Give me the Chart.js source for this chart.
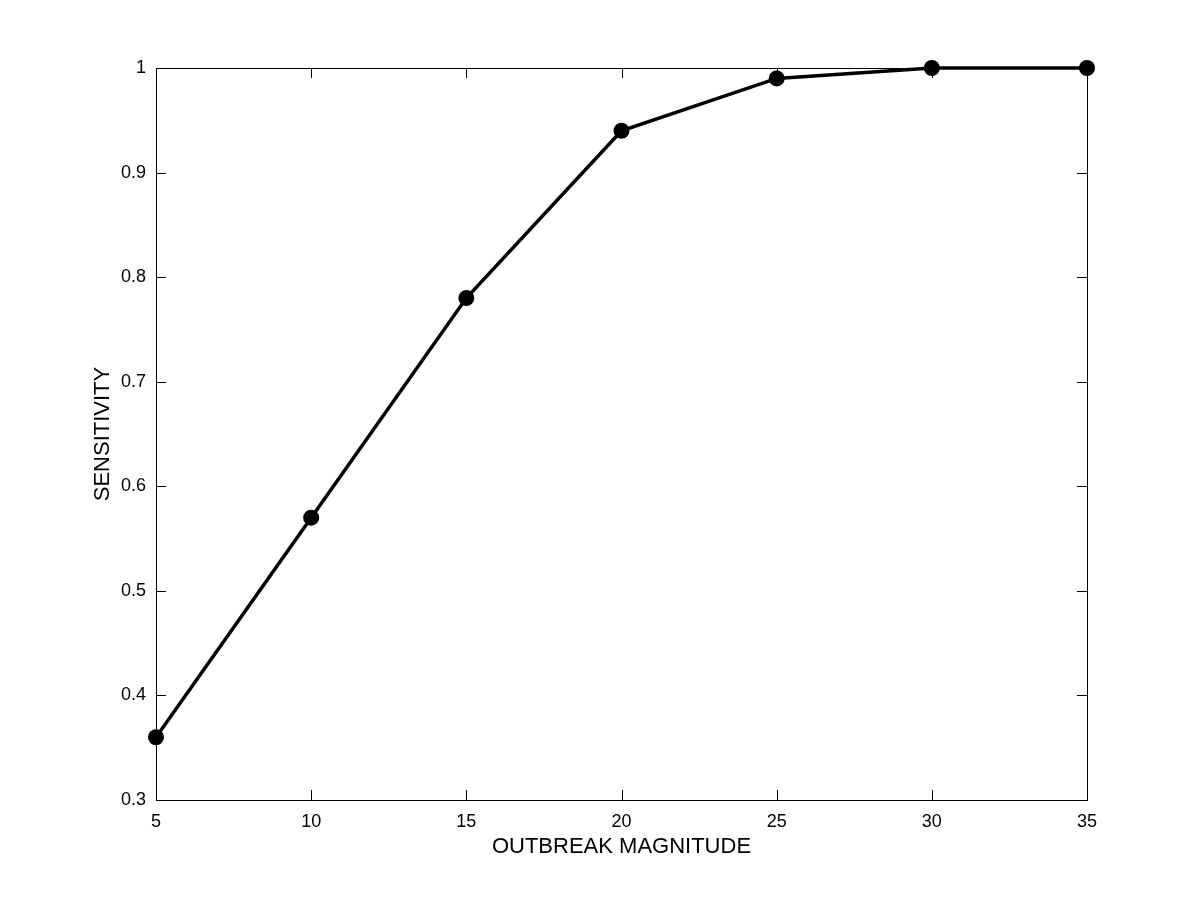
<!DOCTYPE html>
<html>
<head>
<meta charset="utf-8">
<script src="https://cdn.jsdelivr.net/npm/chart.js@4/dist/chart.umd.min.js"></script>
<style>
  body { margin: 0; background: #fff; }
  #wrap { width: 1200px; height: 900px; }
</style>
</head>
<body>
<div id="wrap"><canvas id="chart" width="1200" height="900"></canvas></div>
<script>
const magnitudes = [5, 10, 15, 20, 25, 30, 35];
const sensitivity = [0.36, 0.57, 0.78, 0.94, 0.99, 1.0, 1.0];
const xTicks = [5, 10, 15, 20, 25, 30, 35];
const yTicks = [0.3, 0.4, 0.5, 0.6, 0.7, 0.8, 0.9, 1];

// matlab style box with ticks pointing inward on all four sides
const boxTicks = {
  id: 'boxTicks',
  beforeDatasetsDraw(chart) {
    const { ctx, chartArea: a, scales } = chart;
    const len = 10;
    ctx.save();
    ctx.strokeStyle = '#000';
    ctx.lineWidth = 1;
    ctx.strokeRect(a.left + 0.5, a.top + 0.5, a.right - a.left, a.bottom - a.top);
    ctx.beginPath();
    xTicks.forEach(v => {
      const x = Math.round(scales.x.getPixelForValue(v)) + 0.5;
      ctx.moveTo(x, a.bottom); ctx.lineTo(x, a.bottom - len);
      ctx.moveTo(x, a.top); ctx.lineTo(x, a.top + len);
    });
    yTicks.forEach(v => {
      const y = Math.round(scales.y.getPixelForValue(v)) + 0.5;
      ctx.moveTo(a.left, y); ctx.lineTo(a.left + len, y);
      ctx.moveTo(a.right, y); ctx.lineTo(a.right - len, y);
    });
    ctx.stroke();
    ctx.restore();
  }
};

new Chart(document.getElementById('chart'), {
  type: 'line',
  data: {
    datasets: [{
      data: magnitudes.map((m, i) => ({ x: m, y: sensitivity[i] })),
      borderColor: '#000',
      backgroundColor: '#000',
      borderWidth: 3.5,
      pointRadius: 8,
      pointBackgroundColor: '#000',
      pointBorderWidth: 0,
      tension: 0,
      clip: false
    }]
  },
  options: {
    responsive: false,
    animation: false,
    layout: { padding: { top: 68, right: 113, left: 0, bottom: 0 } },
    plugins: { legend: { display: false }, tooltip: { enabled: false } },
    scales: {
      x: {
        type: 'linear',
        min: 5, max: 35,
        afterFit(s) { s.height = 100; },
        afterBuildTicks(s) { s.ticks = xTicks.map(v => ({ value: v })); },
        grid: { display: false, drawTicks: false },
        border: { display: false },
        ticks: { color: '#000', padding: 11, maxRotation: 0, font: { family: 'Liberation Sans, Arial', size: 18 } },
        title: {
          display: true, text: 'OUTBREAK MAGNITUDE', color: '#000',
          font: { family: 'Liberation Sans, Arial', size: 22 },
          padding: { top: 0, bottom: 40 }
        }
      },
      y: {
        min: 0.3, max: 1,
        afterFit(s) { s.width = 156; },
        afterBuildTicks(s) { s.ticks = yTicks.map(v => ({ value: v })); },
        grid: { display: false, drawTicks: false },
        border: { display: false },
        ticks: {
          color: '#000', padding: 10,
          font: { family: 'Liberation Sans, Arial', size: 18 },
          callback: v => String(Math.round(v * 10) / 10)
        },
        title: {
          display: true, text: 'SENSITIVITY', color: '#000',
          font: { family: 'Liberation Sans, Arial', size: 22 },
          padding: { top: 90, bottom: 0 }
        }
      }
    }
  },
  plugins: [boxTicks]
});
</script>
</body>
</html>
